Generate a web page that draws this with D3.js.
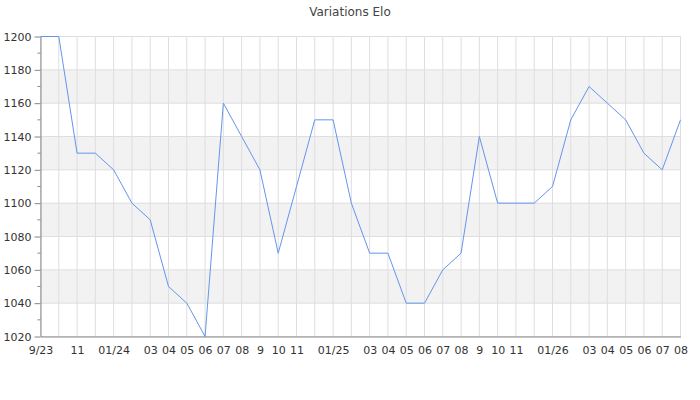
<!DOCTYPE html>
<html>
<head>
<meta charset="utf-8">
<script src="https://cdn.jsdelivr.net/npm/d3@7"></script>
<style>
  html, body { margin: 0; padding: 0; background: #fff; }
  svg { display: block; font-family: "DejaVu Sans", sans-serif; }
</style>
</head>
<body>
<svg id="chart" width="700" height="400"></svg>
<script>
const title = "Variations Elo";
const months = [
  "2023-09","2023-10","2023-11","2023-12",
  "2024-01","2024-02","2024-03","2024-04","2024-05","2024-06","2024-07","2024-08","2024-09","2024-10","2024-11","2024-12",
  "2025-01","2025-02","2025-03","2025-04","2025-05","2025-06","2025-07","2025-08","2025-09","2025-10","2025-11","2025-12",
  "2026-01","2026-02","2026-03","2026-04","2026-05","2026-06","2026-07","2026-08"
];
const tickLabels = [
  "9/23","","11","",
  "01/24","","03","04","05","06","07","08","9","10","11","",
  "01/25","","03","04","05","06","07","08","9","10","11","",
  "01/26","","03","04","05","06","07","08"
];
const elo = [
  1200,1200,1130,1130,
  1120,1100,1090,1050,1040,1020,1160,1140,1120,1070,1110,1150,
  1150,1100,1070,1070,1040,1040,1060,1070,1140,1100,1100,1100,
  1110,1150,1170,1160,1150,1130,1120,1150
];
const yMajorTicks = [1020,1040,1060,1080,1100,1120,1140,1160,1180,1200];
const yMinorTicks = [1030,1050,1070,1090,1110,1130,1150,1170,1190];
const bands = [[1160,1180],[1120,1140],[1080,1100],[1040,1060]];

const svg = d3.select("#chart");
const m = {left: 40.5, right: 19.5, top: 36.5, bottom: 63.5};
const W = 700, H = 400;

const x = d3.scalePoint().domain(months).range([m.left, W - m.right]);
const y = d3.scaleLinear().domain([1020, 1200]).range([H - m.bottom, m.top]);

// bands
svg.append("g").selectAll("rect").data(bands).join("rect")
  .attr("x", m.left).attr("width", (W - m.right) - m.left)
  .attr("y", d => y(d[1])).attr("height", d => y(d[0]) - y(d[1]))
  .attr("fill", "#f2f2f2");

// horizontal grid
svg.append("g").selectAll("line").data(yMajorTicks).join("line")
  .attr("x1", m.left).attr("x2", W - m.right)
  .attr("y1", d => y(d)).attr("y2", d => y(d))
  .attr("stroke", "#dedede").attr("stroke-width", 1);

// vertical grid
svg.append("g").selectAll("line").data(months).join("line")
  .attr("x1", d => x(d)).attr("x2", d => x(d))
  .attr("y1", m.top).attr("y2", H - m.bottom)
  .attr("stroke", "#dedede").attr("stroke-width", 1);

// line
const line = d3.line().x((d, i) => x(months[i])).y(d => y(d));
svg.append("path").datum(elo)
  .attr("d", line).attr("fill", "none")
  .attr("stroke", "#6495ed").attr("stroke-width", 1);

// y axis
const yAxis = d3.axisLeft(y).tickValues(yMajorTicks).tickSizeInner(6).tickSizeOuter(0).tickPadding(3).tickFormat(d3.format("d"));
const gy = svg.append("g").attr("transform", `translate(${m.left},0)`).call(yAxis);
gy.select(".domain").attr("stroke", "#888");
gy.selectAll(".tick line").attr("stroke", "#888");
gy.selectAll("text").attr("fill", "#333").style("font-size", "11px").style("font-family", "DejaVu Sans");
svg.append("g").selectAll("line").data(yMinorTicks).join("line")
  .attr("x1", m.left - 3).attr("x2", m.left)
  .attr("y1", d => y(d)).attr("y2", d => y(d))
  .attr("stroke", "#888");

// x axis
const xAxis = d3.axisBottom(x).tickSize(0).tickPadding(10)
  .tickFormat((d, i) => tickLabels[i]);
const gx = svg.append("g").attr("transform", `translate(0,${H - m.bottom})`).call(xAxis);
gx.select(".domain").attr("stroke", "#888");
gx.selectAll("text").attr("fill", "#333").style("font-size", "11px").style("font-family", "DejaVu Sans");

// title
svg.append("text").attr("x", 350).attr("y", 16).attr("text-anchor", "middle")
  .attr("fill", "#444").style("font-size", "12px").text(title);
</script>
</body>
</html>
